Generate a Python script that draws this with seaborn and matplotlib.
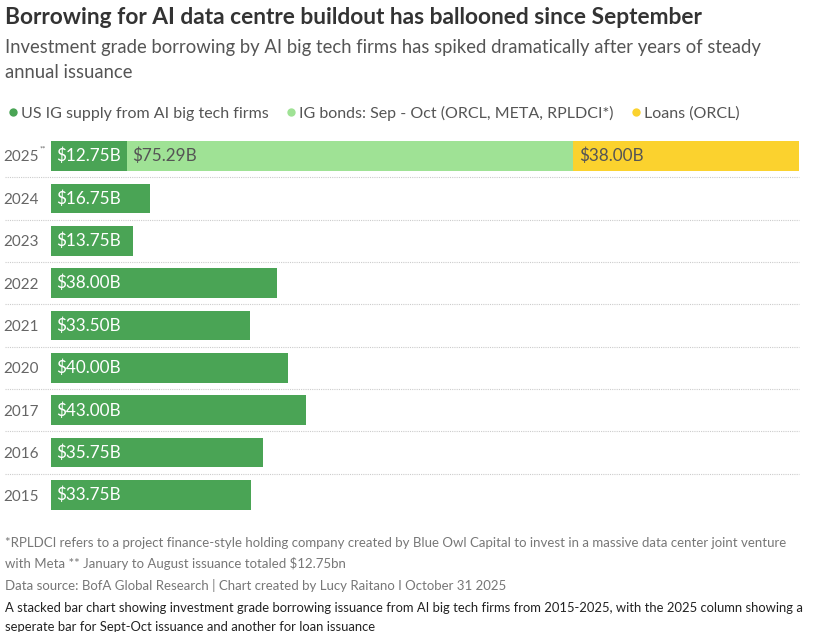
import numpy as np
import pandas as pd
import matplotlib
matplotlib.use("Agg")
import matplotlib.pyplot as plt
from matplotlib.lines import Line2D
import seaborn as sns

# dados (bilhões de USD)
years = ["2025", "2024", "2023", "2022", "2021", "2020", "2017", "2016", "2015"]
us_ig_supply = [12.75, 16.75, 13.75, 38.00, 33.50, 40.00, 43.00, 35.75, 33.75]
ig_bonds_sep_oct = [75.29, 0, 0, 0, 0, 0, 0, 0, 0]
loans_orcl = [38.00, 0, 0, 0, 0, 0, 0, 0, 0]

series_names = ["US IG supply from AI big tech firms",
                "IG bonds: Sep - Oct (ORCL, META, RPLDCI*)",
                "Loans (ORCL)"]
colors = ["#4aa455", "#9fe295", "#fbd22e"]

df = pd.DataFrame({"year": years, "base": us_ig_supply,
                   "bonds": ig_bonds_sep_oct, "loans": loans_orcl})
df["cum_bonds"] = df["base"] + df["bonds"]
df["cum_loans"] = df["cum_bonds"] + df["loans"]

sns.set_theme(style="white")
plt.rcParams["font.family"] = ["Lato", "DejaVu Sans"]

fig = plt.figure(figsize=(8.37, 6.32), dpi=100)
ax = fig.add_axes([51 / 837, (632 - 516.2) / 632, 748 / 837, 381.4 / 632])

# barras empilhadas: totais acumulados desenhados de trás para frente
sns.barplot(data=df, x="cum_loans", y="year", order=years, color=colors[2],
            width=0.7, saturation=1, ax=ax)
sns.barplot(data=df, x="cum_bonds", y="year", order=years, color=colors[1],
            width=0.7, saturation=1, ax=ax)
sns.barplot(data=df, x="base", y="year", order=years, color=colors[0],
            width=0.7, saturation=1, ax=ax)

for p in ax.patches:
    p.set_linewidth(0)

ax.set_xlim(0, df["cum_loans"].max())
ax.set_ylim(len(years) - 0.5, -0.5)
ax.set_xlabel("")
ax.set_ylabel("")
ax.set_xticks([])
ax.tick_params(axis="y", length=0, pad=9, labelsize=11, labelcolor="#666666")
for s in ax.spines.values():
    s.set_visible(False)

# rótulos dentro das barras
pad = 0.9
lbl = dict(va="center", ha="left", fontsize=12.3)
for i, yr in enumerate(years):
    b, bo, lo = us_ig_supply[i], ig_bonds_sep_oct[i], loans_orcl[i]
    ax.text(pad, i, f"${b:.2f}B", color="white", **lbl)
    if bo > 0:
        ax.text(b + pad, i, f"${bo:.2f}B", color="#555555", **lbl)
    if lo > 0:
        ax.text(b + bo + pad, i, f"${lo:.2f}B", color="#555555", **lbl)

# "**" no rótulo de 2025
fig.text(39.5 / 837, 1 - 149 / 632, "**", fontsize=5.5, color="#666666", va="center")

# linhas pontilhadas entre as linhas
for i in range(len(years) - 1):
    ax.plot([-46 / 748 * ax.get_xlim()[1], ax.get_xlim()[1]], [i + 0.5, i + 0.5],
            color="#cccccc", linestyle=(0, (1, 1)), linewidth=0.8, clip_on=False)

# títulos
fig.text(5 / 837, 1 - 17 / 632, "Borrowing for AI data centre buildout has ballooned since September",
         fontsize=16.4, fontweight="bold", color="#333333", va="center")
fig.text(5 / 837, 1 - 48 / 632, "Investment grade borrowing by AI big tech firms has spiked dramatically after years of steady",
         fontsize=13.35, color="#555555", va="center")
fig.text(5 / 837, 1 - 73 / 632, "annual issuance", fontsize=13.35, color="#555555", va="center")

# legenda
handles = [Line2D([0], [0], marker="o", linestyle="", markersize=6,
                  markerfacecolor=c, markeredgewidth=0) for c in colors]
fig.legend(handles, series_names, loc="center left", bbox_to_anchor=(0, 1 - 113 / 632),
           ncol=3, frameon=False, fontsize=11.5, handletextpad=0.1, columnspacing=1.0,
           handlelength=0.8, borderaxespad=0, labelcolor="#555555")

# notas de rodapé
note = dict(fontsize=9.5, color="#777777", va="center")
fig.text(5 / 837, 1 - 543 / 632, "*RPLDCI refers to a project finance-style holding company created by Blue Owl Capital to invest in a massive data center joint venture",
         **note)
fig.text(5 / 837, 1 - 563 / 632, "with Meta ** January to August issuance totaled $12.75bn", **note)
fig.text(5 / 837, 1 - 586 / 632, "Data source: BofA Global Research | Chart created by Lucy Raitano I October 31 2025",
         **note)
fig.text(5 / 837, 1 - 608 / 632, "A stacked bar chart showing investment grade borrowing issuance from AI big tech firms from 2015-2025, with the 2025 column showing a",
         fontsize=9.4, color="#222222", va="center")
fig.text(5 / 837, 1 - 627 / 632, "seperate bar for Sept-Oct issuance and another for loan issuance",
         fontsize=9.4, color="#222222", va="center")

fig.savefig("out.png", dpi=100)
